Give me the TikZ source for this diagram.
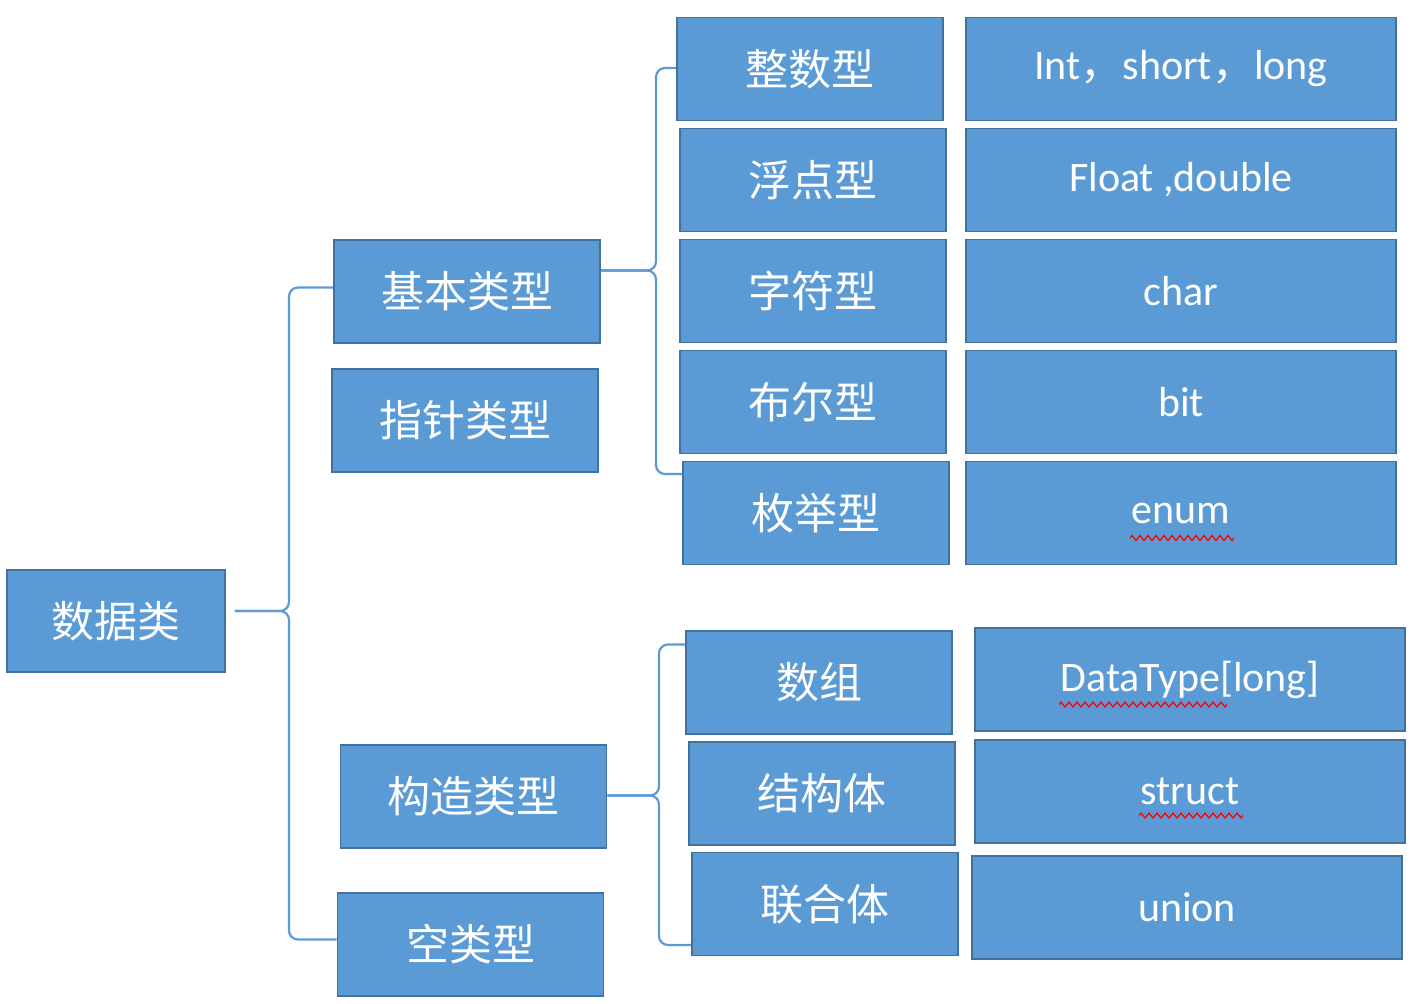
\documentclass[tikz,border=0pt]{standalone}
\usepackage{fontspec}
\setmainfont{Carlito}
\newfontfamily\cjk{Noto Sans CJK SC}
\usetikzlibrary{decorations.pathmorphing}
\definecolor{boxblue}{HTML}{5B9BD5}
\definecolor{boxedge}{HTML}{41719C}
\definecolor{linkblue}{HTML}{5B9BD5}
\begin{document}
\begin{tikzpicture}[x=1pt,y=-1pt,
	box/.style={draw=boxedge,fill=boxblue,line width=1.6pt,minimum width=266pt,minimum height=103pt,inner sep=0pt,text=white,font=\cjk\fontsize{43}{43}\selectfont},
	val/.style={box,minimum width=430pt,font=\fontsize{42}{42}\selectfont},
	brace/.style={draw=linkblue,line width=2.2pt,rounded corners=9pt},
	spell/.style={draw=red,line width=1.3pt,decorate,decoration={zigzag,segment length=8pt,amplitude=2.4pt}}]
	\useasboundingbox (0,0) rectangle (1420,1003);
	\path
	(116,621)   	node[box,minimum width=218pt,minimum height=102pt] (root) {数据类}
	(467,291.5) 	node[box] (basic) {基本类型}
	(465,420.5) 	node[box] (ptr)   {指针类型}
	(473.5,796.5) 	node[box] (cons)  {构造类型}
	(470.5,944.5) 	node[box] (void)  {空类型}
	(810,69)    	node[box] (int)   {整数型}
	(813,180)   	node[box] (flt)   {浮点型}
	(813,291)   	node[box] (chr)   {字符型}
	(813,402)   	node[box] (bool)  {布尔型}
	(816,513)   	node[box] (enm)   {枚举型}
	(819,682.5) 	node[box] (arr)   {数组}
	(822,793.5) 	node[box] (strc)  {结构体}
	(825,904)   	node[box] (uni)   {联合体}
	(1181,69)   	node[val] (v1) {Int{\cjk，}short{\cjk，}long}
	(1181,180)  	node[val] (v2) {Float ,double}
	(1181,291)  	node[val] (v3) {char}
	(1181,402)  	node[val] (v4) {bit}
	(1181,513)  	node[val] (v5) {enum}
	(1190,679.5) 	node[val] (v6) {DataType[long]}
	(1190,791.5) 	node[val] (v7) {struct}
	(1187,907.5) 	node[val] (v8) {union};
	% braces
	\draw[brace] ([shift={(9,-10)}]root.east) -- (289,611) |- ([shift={(0,-4)}]basic.west);
	\draw[brace] ([shift={(9,-10)}]root.east) -- (289,611) |- ([shift={(0,-5)}]void.west);
	\draw[brace] ([shift={(0,-21)}]basic.east) -- (656,270.5) |- ([shift={(0,-1)}]int.west);
	\draw[brace] ([shift={(0,-21)}]basic.east) -- (656,270.5) |- ([shift={(0,-39)}]enm.west);
	\draw[brace] ([shift={(0,-1)}]cons.east) -- (659,795.5) |- ([shift={(0,-38)}]arr.west);
	\draw[brace] ([shift={(0,-1)}]cons.east) -- (659,795.5) |- ([shift={(0,41)}]uni.west);
	% spell check marks
	\draw[spell] ([shift={(-51,25)}]v5.center) -- ++(104,0);
	\draw[spell] ([shift={(-131,25)}]v6.center) -- ++(168,0);
	\draw[spell] ([shift={(-51,24)}]v7.center) -- ++(104,0);
\end{tikzpicture}
\end{document}
